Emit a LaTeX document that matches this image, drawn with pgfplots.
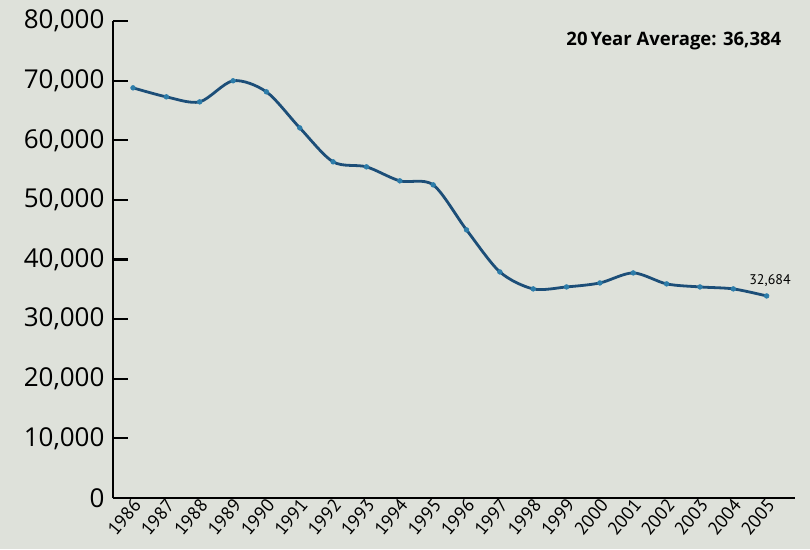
\documentclass[border=0pt]{standalone}
\usepackage{pgfplots}
\pgfplotsset{compat=1.18}
\usepackage{fontspec}
\setmainfont{Open Sans}
\newfontfamily\narrowfont{PT Sans}
\definecolor{bgcol}{RGB}{222,225,218}
\definecolor{linecol}{RGB}{28,78,120}
\definecolor{markcol}{RGB}{45,125,170}
\begin{document}
\begin{tikzpicture}
\path[use as bounding box, fill=bgcol] (-113pt,-51pt) rectangle (697pt,498pt);
\begin{axis}[
  at={(0,0)}, anchor=south west,
  scale only axis, width=682pt, height=477pt,
  xmin=1985.4, xmax=2005.85, ymin=0, ymax=80000,
  axis lines=left,
  axis line style={line width=2.2pt, black, -},
  xtick={1986,...,2005},
  ytick={0,10000,...,80000},
  tick align=inside,
  major tick length=15pt,
  y tick style={line width=2.2pt, black},
  x tick style={draw=none},
  scaled y ticks=false,
  /pgf/number format/assume math mode=true,
  yticklabel style={font=\fontsize{26}{29}\selectfont, xshift=-5pt,
    /pgf/number format/.cd, fixed, 1000 sep={,}},
  xticklabel style={font=\narrowfont\fontsize{18.5}{21}\selectfont, xshift=5pt, yshift=-3pt, rotate=50, anchor=east, inner sep=1pt,
    /pgf/number format/.cd, 1000 sep={}},
  clip=false,
]
\addplot[linecol, line width=2.8pt, smooth, mark=*, mark size=2.4pt,
  mark options={fill=markcol, draw=markcol, line width=0.5pt}]
coordinates {
(1986,68790) (1987,67280) (1988,66440) (1989,69970) (1990,68120)
(1991,62080) (1992,56380) (1993,55540) (1994,53190) (1995,52520)
(1996,44970) (1997,37920) (1998,35070) (1999,35400) (2000,36070)
(2001,37750) (2002,35910) (2003,35400) (2004,35070) (2005,33890)
};
\node[anchor=east, font=\fontsize{18.5}{21}\selectfont\bfseries] at (rel axis cs:0.985,0.958) {20\,Year Average: 36,384};
\node[anchor=south, font=\narrowfont\fontsize{14}{16}\selectfont] at (axis cs:2005.1,33890) [yshift=6pt] {32,684};
\end{axis}
\end{tikzpicture}
\end{document}
